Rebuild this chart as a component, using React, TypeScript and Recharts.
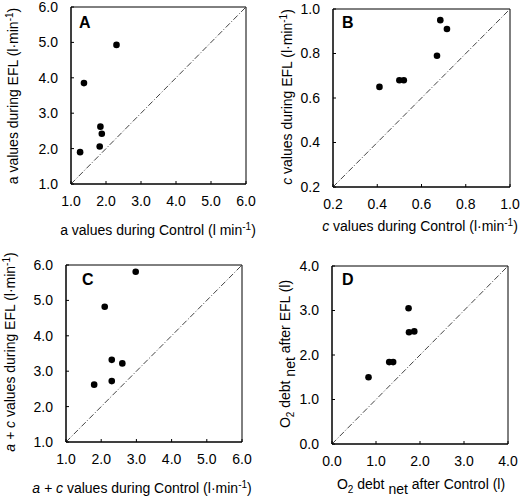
import React from 'react';
import { ScatterChart, Scatter, XAxis, YAxis, ReferenceLine, ReferenceArea } from 'recharts';

const FONT = '"Liberation Sans", Arial, Helvetica, sans-serif';

// Panel A: a values
const aControl = [1.26, 1.37, 1.82, 1.84, 1.88, 2.3];
const aEFL = [1.9, 3.85, 2.06, 2.62, 2.42, 4.93];
// Panel B: c values
const cControl = [0.41, 0.5, 0.52, 0.67, 0.685, 0.715];
const cEFL = [0.65, 0.68, 0.68, 0.79, 0.95, 0.91];
// Panel C: a + c values
const acControl = [1.8, 2.1, 2.3, 2.3, 2.6, 2.98];
const acEFL = [2.62, 4.82, 3.32, 2.72, 3.22, 5.81];
// Panel D: O2 debt net
const o2Control = [0.83, 1.3, 1.39, 1.74, 1.75, 1.87];
const o2EFL = [1.5, 1.84, 1.84, 3.05, 2.51, 2.53];

const ticksAC = [1, 2, 3, 4, 5, 6];
const ticksB = [0.2, 0.4, 0.6, 0.8, 1.0];
const ticksD = [0, 1, 2, 3, 4];

const toPoints = (xs: number[], ys: number[]) => xs.map((x, i) => ({ x, y: ys[i] }));

const Dot = (p: any) => <circle cx={p.cx} cy={p.cy} r={3.3} fill="#000" />;

type PanelProps = {
  left: number;
  top: number;
  margin: { top: number; right: number; bottom: number; left: number };
  domain: [number, number];
  ticks: number[];
  data: { x: number; y: number }[];
};

const tickStyle = { fill: '#000', fontSize: 14, fontFamily: FONT };

function Panel({ left, top, margin, domain, ticks, data }: PanelProps) {
  return (
    <div style={{ position: 'absolute', left, top, width: 260, height: 248 }}>
      <ScatterChart width={260} height={248} margin={margin}>
        <XAxis
          type="number"
          dataKey="x"
          domain={domain}
          ticks={ticks}
          interval={0}
          allowDataOverflow
          tickFormatter={(v: number) => v.toFixed(1)}
          tickSize={-3}
          tickMargin={15}
          height={30}
          axisLine={{ stroke: '#000' }}
          tickLine={{ stroke: '#000' }}
          tick={tickStyle}
        />
        <YAxis
          type="number"
          dataKey="y"
          domain={domain}
          ticks={ticks}
          interval={0}
          allowDataOverflow
          tickFormatter={(v: number) => v.toFixed(1)}
          tickSize={-3}
          tickMargin={16}
          width={60}
          axisLine={{ stroke: '#000' }}
          tickLine={{ stroke: '#000' }}
          tick={tickStyle}
        />
        <ReferenceArea x1={domain[0]} x2={domain[1]} y1={domain[0]} y2={domain[1]} fill="none" stroke="#000" strokeOpacity={1} />
        <ReferenceLine
          segment={[
            { x: domain[0], y: domain[0] },
            { x: domain[1], y: domain[1] },
          ]}
          stroke="#444"
          strokeDasharray="6 2 1 2"
        />
        <Scatter data={data} isAnimationActive={false} shape={Dot} />
      </ScatterChart>
    </div>
  );
}

const T = { fontFamily: FONT, fontSize: 14, fill: '#000' } as const;

function Titles() {
  return (
    <svg width={520} height={496} style={{ position: 'absolute', left: 0, top: 0, pointerEvents: 'none' }}>
      {/* Panel letters */}
      <text x={79} y={28} fontFamily={FONT} fontSize={16} fontWeight="bold">A</text>
      <text x={342} y={28} fontFamily={FONT} fontSize={16} fontWeight="bold">B</text>
      <text x={82} y={285} fontFamily={FONT} fontSize={16} fontWeight="bold">C</text>
      <text x={342} y={285} fontFamily={FONT} fontSize={16} fontWeight="bold">D</text>

      {/* A */}
      <text x={158} y={235} textAnchor="middle" {...T}>
        a values during Control (l min<tspan dy={-5} fontSize={10}>-1</tspan><tspan dy={5}>)</tspan>
      </text>
      <text transform="translate(18,96) rotate(-90)" textAnchor="middle" {...T}>
        a values during EFL (l·min<tspan dy={-5} fontSize={10}>-1</tspan><tspan dy={5}>)</tspan>
      </text>

      {/* B */}
      <text x={420} y={231} textAnchor="middle" {...T}>
        <tspan fontStyle="italic">c</tspan> values during Control (l·min<tspan dy={-5} fontSize={10}>-1</tspan><tspan dy={5}>)</tspan>
      </text>
      <text transform="translate(292,97) rotate(-90)" textAnchor="middle" {...T}>
        <tspan fontStyle="italic">c</tspan> values during EFL (l·min<tspan dy={-5} fontSize={10}>-1</tspan><tspan dy={5}>)</tspan>
      </text>

      {/* C */}
      <text x={142} y={493} textAnchor="middle" {...T}>
        <tspan fontStyle="italic">a + c</tspan> values during Control (l·min<tspan dy={-5} fontSize={10}>-1</tspan><tspan dy={5}>)</tspan>
      </text>
      <text transform="translate(15,352) rotate(-90)" textAnchor="middle" {...T}>
        <tspan fontStyle="italic">a + c</tspan>  values during EFL (l·min<tspan dy={-5} fontSize={10}>-1</tspan><tspan dy={5}>)</tspan>
      </text>

      {/* D */}
      <text x={421} y={489} textAnchor="middle" {...T}>
        O<tspan dy={4} fontSize={10}>2</tspan><tspan dy={-4}> debt </tspan><tspan dy={5}>net</tspan><tspan dy={-5}> after Control (l)</tspan>
      </text>
      <text transform="translate(290,354) rotate(-90)" textAnchor="middle" {...T}>
        O<tspan dy={4} fontSize={10}>2</tspan><tspan dy={-4}> debt </tspan><tspan dy={5}>net</tspan><tspan dy={-5}> after EFL (l)</tspan>
      </text>
    </svg>
  );
}

export default function App() {
  return (
    <div style={{ position: 'absolute', left: 0, top: 0, width: 520, height: 496, background: '#fff' }}>
      <Panel
        left={0}
        top={0}
        margin={{ top: 7, right: 14, bottom: 34, left: 11 }}
        domain={[1, 6]}
        ticks={ticksAC}
        data={toPoints(aControl, aEFL)}
      />
      <Panel
        left={260}
        top={0}
        margin={{ top: 9, right: 10, bottom: 31, left: 13 }}
        domain={[0.2, 1.0]}
        ticks={ticksB}
        data={toPoints(cControl, cEFL)}
      />
      <Panel
        left={0}
        top={248}
        margin={{ top: 17, right: 18, bottom: 24, left: 6 }}
        domain={[1, 6]}
        ticks={ticksAC}
        data={toPoints(acControl, acEFL)}
      />
      <Panel
        left={260}
        top={248}
        margin={{ top: 18, right: 12, bottom: 22, left: 12 }}
        domain={[0, 4]}
        ticks={ticksD}
        data={toPoints(o2Control, o2EFL)}
      />
      <Titles />
    </div>
  );
}
